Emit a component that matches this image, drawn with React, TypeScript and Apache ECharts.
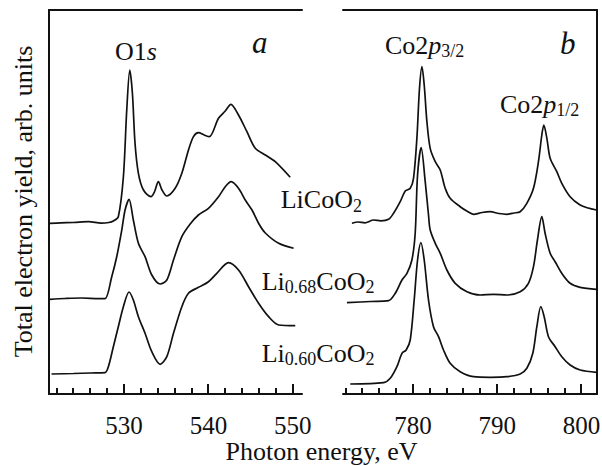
import React, { useEffect, useRef } from "react";
import * as echarts from "echarts";

// ---- Data (x: photon energy eV, y: arbitrary units with vertical offsets) ----
const o1sLiCoO2: number[][] = [
  [521.2, 170.7], [522.5, 171.2], [524, 171.5], [525.8, 172.3], [527.3, 170.8], [528.2, 171.5],
  [528.73, 173], [529.32, 177.3], [529.92, 217.3], [530.32, 284], [530.68, 324], [530.99, 300.7],
  [531.3, 250.7], [531.7, 220.7], [532.3, 204], [533.2, 197.3], [533.6, 202], [534.07, 212.3],
  [534.5, 204], [535.07, 198], [536.06, 205.7], [536.85, 220.7], [537.64, 244], [538.23, 257.3],
  [538.82, 261.3], [539.5, 259], [540.1, 257.3], [541.2, 275.7], [542, 283], [542.67, 289.7],
  [543.57, 279], [544.57, 262.3], [545.56, 245.7], [546.75, 239], [547.93, 232.3], [549.7, 216.7],
];
const o1sLi068: number[][] = [
  [521.2, 94.7], [523, 95.5], [525, 96], [527, 95.3], [527.74, 95.3], [528.54, 117.3],
  [529.13, 137.3], [529.73, 164], [530.12, 184], [530.59, 194.7], [531.1, 174], [531.7, 150.7],
  [532.49, 137.3], [533.29, 119], [534.28, 110], [535.07, 114], [535.86, 134], [536.85, 157.3],
  [537.84, 170], [538.82, 179], [540.01, 185.7], [541.2, 197.3], [542, 207.3], [542.7, 212.3],
  [543.57, 205.7], [544.37, 194], [545.17, 184], [546.0, 170], [546.75, 161], [548.33, 150.7],
  [550.1, 145.7],
];
const o1sLi060: number[][] = [
  [521.4, 20], [524, 20.5], [526, 21], [527.74, 21.3], [528.14, 27.3], [528.73, 47.3],
  [529.32, 67.3], [529.92, 87.3], [530.59, 102], [531.1, 94], [531.7, 77.3], [532.49, 60.7],
  [533.29, 42.3], [534.28, 29.7], [535.07, 37.3], [535.86, 60.7], [536.85, 87.3], [537.64, 100.7],
  [538.82, 106.7], [540.01, 112.3], [541, 120.7], [542.39, 131.3], [543.57, 124], [544.76, 107.3],
  [545.95, 90.7], [547.14, 77.3], [548.33, 69], [550.3, 68.3],
];
const co2pLiCoO2: number[][] = [
  [772.76, 170.7], [773.5, 172], [774.3, 171.2], [775.33, 174], [776.2, 173.2], [777.11, 174.7],
  [777.7, 180.7], [778.49, 192.3], [779.09, 203], [779.68, 205.7], [780.07, 215.7], [780.47, 255.7],
  [780.78, 305.7], [781.07, 327.3], [781.34, 309], [781.66, 272.3], [782.05, 245.7], [782.65, 232.3],
  [783.24, 224], [783.83, 205.7], [784.42, 195.7], [785.61, 187.3], [786.4, 183], [787.19, 179.7],
  [788.2, 181.5], [789.17, 182.3], [790.2, 180.5], [791.15, 179.7], [792, 181], [792.73, 182.3],
  [793.52, 190.7], [794.31, 205.7], [794.9, 232.3], [795.3, 259], [795.54, 269], [795.9, 255.7],
  [796.29, 235.7], [797.08, 222.3], [797.67, 210.7], [798.66, 197.3], [799.85, 189], [800.8, 186],
  [801.8, 184],
];
const co2pLi068: number[][] = [
  [772.17, 91.3], [775, 92.5], [777.11, 93.3], [777.9, 100.7], [778.7, 114], [779.29, 120.7],
  [779.88, 134], [780.27, 160.7], [780.55, 219], [780.98, 246.3], [781.46, 212.3], [781.85, 179],
  [782.05, 164], [782.65, 150.7], [783.24, 140.7], [784.03, 124], [785.02, 110.7], [786.41, 102.3],
  [787.98, 99], [789.56, 99.7], [791.15, 99], [792.73, 102.3], [793.71, 110.7], [794.31, 127.3],
  [794.78, 154], [795.3, 177.3], [795.69, 160.7], [796.29, 140.7], [796.88, 132.3], [797.67, 120.7],
  [798.66, 110.7], [799.85, 106.7], [801.8, 104.7],
];
const co2pLi060: number[][] = [
  [772.56, 10], [776.51, 11.3], [777.31, 15.7], [778.1, 27.3], [778.7, 40.7], [779.2, 44],
  [779.68, 54], [780.15, 94], [780.55, 134], [780.95, 151.3], [781.34, 134], [781.85, 94],
  [782.44, 67.3], [783.04, 57.3], [783.63, 44], [784.42, 30.7], [785.61, 22.3], [787.19, 17.3],
  [789.17, 16.7], [791.15, 17.3], [792.73, 20], [793.52, 25.7], [794.23, 40.7], [794.71, 67.3],
  [795.18, 87.3], [795.58, 77.3], [796.09, 57.3], [796.88, 47.3], [797.67, 37.3], [798.66, 29],
  [799.85, 24], [801.8, 21.7],
];

// axis extents and tick values
const leftRange = [521.1, 551.1];
const rightRange = [771.7, 801.85];
const leftMajor = [530, 540, 550];
const leftMinor = [522, 524, 526, 528, 532, 534, 536, 538, 542, 544, 546, 548];
const rightMajor = [780, 790, 800];
const rightMinor = [772, 774, 776, 778, 782, 784, 786, 788, 792, 794, 796, 798];

const FONT = "'Liberation Serif', 'Times New Roman', serif";
const INK = "#111111";

export default function App() {
  const ref = useRef<HTMLDivElement>(null);
  useEffect(() => {
    if (!ref.current) return;
    const chart = echarts.init(ref.current, undefined, { renderer: "svg" });
    const axisLine = { show: true, lineStyle: { color: INK, width: 2 } };
    const mainX = (grid: number, range: number[], position: string) => ({
      type: "value",
      gridIndex: grid,
      position,
      min: range[0],
      max: range[1],
      splitLine: { show: false },
      axisLine,
      axisTick: { show: false },
      axisLabel: { show: false },
    });
    const mainY = (grid: number, position: string) => ({
      type: "value",
      gridIndex: grid,
      position,
      min: 0,
      max: 384,
      splitLine: { show: false },
      axisLine,
      axisTick: { show: false },
      axisLabel: { show: false },
    });
    const line = (data: number[][], xi: number, yi: number) => ({
      type: "line",
      data,
      xAxisIndex: xi,
      yAxisIndex: yi,
      showSymbol: false,
      smooth: 0.3,
      lineStyle: { color: INK, width: 1.7 },
    });
    chart.setOption({
      animation: false,
      textStyle: { fontFamily: FONT },
      grid: [
        { left: 49, top: 10, width: 253, height: 384 },
        { left: 343, top: 10, width: 254, height: 384 },
      ],
      xAxis: [
        mainX(0, leftRange, "bottom"),
        mainX(0, leftRange, "top"),
        mainX(1, rightRange, "bottom"),
        mainX(1, rightRange, "top"),
      ],
      yAxis: [mainY(0, "left"), mainY(1, "right")],
      series: [
        line(o1sLiCoO2, 0, 0),
        line(o1sLi068, 0, 0),
        line(o1sLi060, 0, 0),
        line(co2pLiCoO2, 2, 1),
        line(co2pLi068, 2, 1),
        line(co2pLi060, 2, 1),
      ],
    });

    // ticks and tick labels placed through the axes' own scales
    const tickEls: any[] = [];
    const addTicks = (gridIndex: number, vals: number[], len: number, labels: boolean) => {
      vals.forEach((v) => {
        const p = chart.convertToPixel({ gridIndex } as any, [v, 0]) as number[];
        if (!p) return;
        const x = Math.round(p[0]);
        const y = Math.round(p[1]);
        tickEls.push({
          type: "rect",
          z: 50,
          shape: { x: x - 1, y: y - len, width: 2, height: len },
          style: { fill: INK },
        });
        if (labels) {
          tickEls.push({
            type: "text",
            x: p[0],
            y: p[1] + 31.5,
            style: {
              text: String(v),
              fill: INK,
              fontFamily: FONT,
              fontSize: 25,
              align: "center",
              verticalAlign: "middle",
            },
          });
        }
      });
    };
    addTicks(0, leftMajor, 10, true);
    addTicks(0, leftMinor, 6, false);
    addTicks(1, rightMajor, 10, true);
    addTicks(1, rightMinor, 6, false);

    const sub = { fontFamily: FONT, fontSize: 18, lineHeight: 14, verticalAlign: "bottom", fill: INK };
    const main = { fontFamily: FONT, fontSize: 26, lineHeight: 30, verticalAlign: "middle", fill: INK };
    const ital = { ...main, fontStyle: "italic" };
    const txt = (text: string, x: number, y: number, extra: any = {}) => ({
      type: "text",
      x,
      y,
      style: {
        text,
        fill: INK,
        fontFamily: FONT,
        fontSize: 26,
        align: "left",
        verticalAlign: "middle",
        rich: { n: main, i: ital, s: sub },
        ...extra,
      },
    });
    chart.setOption({
      graphic: [
        ...tickEls,
        txt("Photon energy, eV", 321.5, 451, { align: "center" }),
        {
          type: "text",
          x: 23,
          y: 201.5,
          rotation: Math.PI / 2,
          style: {
            text: "Total electron yield, arb. units",
            fill: INK,
            fontFamily: FONT,
            fontSize: 26,
            align: "center",
            verticalAlign: "middle",
          },
        },
        txt("{n|O1}{i|s}", 115, 51),
        txt("a", 252, 42, { fontStyle: "italic", fontSize: 31 }),
        txt("b", 560, 43, { fontStyle: "italic", fontSize: 31 }),
        txt("{n|Co2}{i|p}{s|3/2}", 385, 45),
        txt("{n|Co2}{i|p}{s|1/2}", 500, 104),
        txt("{n|LiCoO}{s|2}", 280.7, 199.5),
        txt("{n|Li}{s|0.68}{n|CoO}{s|2}", 261.7, 281),
        txt("{n|Li}{s|0.60}{n|CoO}{s|2}", 261.7, 353),
      ],
    });
    return () => chart.dispose();
  }, []);
  return (
    <div
      ref={ref}
      style={{ position: "fixed", left: 0, top: 0, width: 602, height: 466, background: "#fff" }}
    />
  );
}
